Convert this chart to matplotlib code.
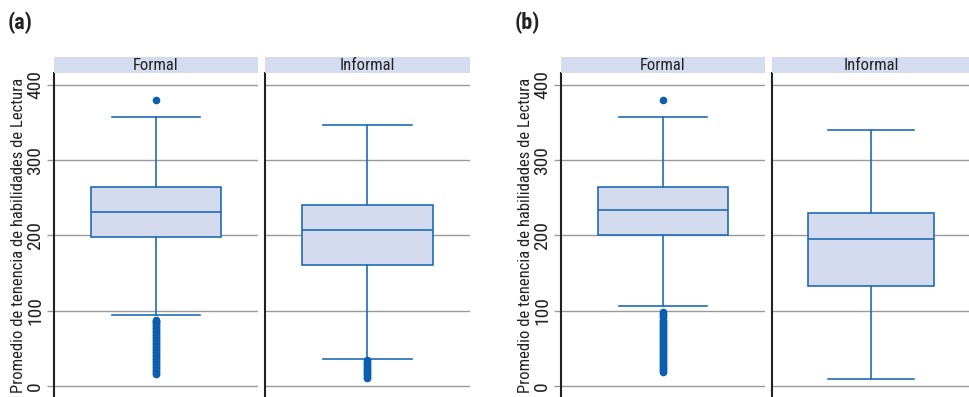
import matplotlib
matplotlib.use("Agg")
import matplotlib.pyplot as plt
from matplotlib import font_manager as fm
from matplotlib.patches import Rectangle

# look for a narrow sans; fall back to DejaVu Sans
names = {f.name for f in fm.fontManager.ttflist}
narrow = [n for n in ["Liberation Sans Narrow", "Roboto Condensed", "Open Sans Condensed"]
          if n in names]
if narrow:
    plt.rcParams["font.family"] = [narrow[0], "DejaVu Sans"]
    fs_lab, fs_tick, fs_strip, fs_panel = 12, 14, 12, 16
else:
    plt.rcParams["font.family"] = ["DejaVu Sans"]
    fs_lab, fs_tick, fs_strip, fs_panel = 9.8, 11.5, 10, 13.5

# five-number summaries: (whislo, q1, med, q3, whishi)
panels = ["(a)", "(b)"]
groups = ["Formal", "Informal"]
stats_a = [(94, 198, 231, 264, 357), (35, 161, 207, 240, 347)]
stats_b = [(106, 201, 234, 264, 357), (9, 133, 195, 230, 340)]
fliers_a = [
    [380, 88, 86, 85, 83, 81, 79, 77, 75, 73, 71, 69, 67, 65, 63, 61, 59, 57, 55,
     53, 51, 49, 47, 45, 43, 41, 39, 37, 35, 33, 31, 29, 27, 25, 23, 21, 19, 17, 15],
    [34, 32, 30, 28, 26, 24, 22, 20, 18, 16, 14, 12, 10],
]
fliers_b = [
    [380, 98, 96, 94, 92, 88, 86, 84, 82, 80, 78, 76, 74, 72, 70, 68, 66, 64, 62,
     60, 58, 56, 54, 52, 50, 48, 46, 44, 42, 40, 38, 36, 34, 32, 30, 28, 26, 24,
     22, 20, 18],
    [],
]
yticks = [0, 100, 200, 300, 400]
ylabel = "Promedio de tenencia de habilidades de Lectura"

W, H = 970, 397
edge = "#1f6db5"
fill = "#d4dbee"
strip = "#d5dcef"
grid = "#9a9a9a"

fig = plt.figure(figsize=(W / 100, H / 100), dpi=100)

# pixel layout of the four facets
lefts = [(54, 258, 265, 470), (561, 765, 772, 970)]
top_px = 73


def draw_box(ax, s, fl, first):
    st = dict(whislo=s[0], q1=s[1], med=s[2], q3=s[3], whishi=s[4], fliers=fl)
    ax.bxp([st], positions=[0.5], widths=0.64, capwidths=0.43, patch_artist=True,
           boxprops=dict(facecolor=fill, edgecolor=edge, linewidth=1.2),
           medianprops=dict(color=edge, linewidth=1.2),
           whiskerprops=dict(color=edge, linewidth=1.2),
           capprops=dict(color=edge, linewidth=1.2),
           flierprops=dict(marker="o", markersize=4.5, markerfacecolor="#0b5faf",
                           markeredgecolor="#0b5faf"))
    ax.set_xlim(0, 1)
    ax.set_ylim(-15, (386 - top_px) / 0.7525)
    ax.set_xticks([])
    ax.set_yticks(yticks)
    ax.yaxis.grid(True, color=grid, linewidth=1)
    ax.set_axisbelow(True)
    for sp in ["top", "right", "bottom"]:
        ax.spines[sp].set_visible(False)
    ax.spines["left"].set_color("#222222")
    ax.spines["left"].set_linewidth(1.5)
    if first:
        ax.tick_params(axis="y", length=5, color=grid, width=1, pad=2,
                       labelsize=fs_tick, labelcolor="#222222")
        for t in ax.get_yticklabels():
            t.set_rotation(90)
            t.set_va("center")
        ax.set_ylabel(ylabel, fontsize=fs_lab, color="#222222")
        ax.yaxis.set_label_coords(-28 / 204, 0.5)
    else:
        ax.tick_params(axis="y", length=0, labelleft=False)


for p, name in enumerate(panels):
    stats = stats_a if p == 0 else stats_b
    fls = fliers_a if p == 0 else fliers_b
    px = lefts[p]
    for g in range(2):
        x0, x1 = px[2 * g], px[2 * g + 1]
        ax = fig.add_axes([x0 / W, 0, (x1 - x0) / W, 1 - top_px / H])
        draw_box(ax, stats[g], fls[g], g == 0)
        # facet strip
        sax = fig.add_axes([x0 / W, 1 - top_px / H, (x1 - x0) / W, 16 / H])
        sax.add_patch(Rectangle((0, 0), 1, 1, color=strip, transform=sax.transAxes))
        sax.text(0.5, 0.45, groups[g], ha="center", va="center", fontsize=fs_strip,
                 color="#222222", transform=sax.transAxes)
        sax.axis("off")
    fig.text((px[0] - 46) / W, 1 - 23 / H, name, fontsize=fs_panel, fontweight="bold",
             ha="left", va="center", color="#222222")

fig.savefig("out.png", dpi=100)
